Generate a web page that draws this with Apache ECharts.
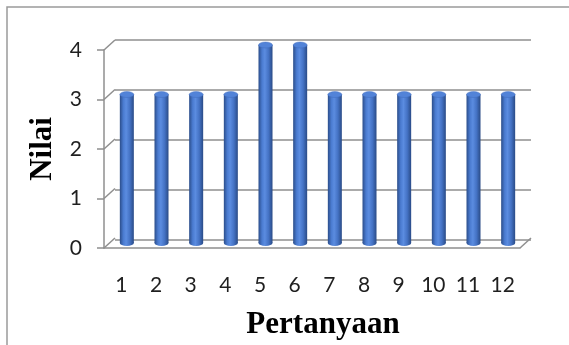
<!DOCTYPE html>
<html>
<head>
<meta charset="utf-8">
<script src="https://cdn.jsdelivr.net/npm/echarts@6/dist/echarts.min.js"></script>
<style>
  html, body { margin: 0; padding: 0; background: #ffffff; }
  #chart { width: 569px; height: 345px; }
</style>
</head>
<body>
<div id="chart"></div>
<script>
// Scores per question
const categories = ['1', '2', '3', '4', '5', '6', '7', '8', '9', '10', '11', '12'];
const values = [3, 3, 3, 3, 4, 4, 3, 3, 3, 3, 3, 3];
const yTicks = [0, 1, 2, 3, 4];
const yTitle = 'Nilai';
const xTitle = 'Pertanyaan';

// Pseudo-3D depth of the plot box (back wall sits up and to the right)
const DX = 11, DY = -10;
const FRONT = { left: 104, top: 50, width: 416, height: 200 };
const GRID_COLOR = '#8f8f8f';
const LABEL_FONT = 'Lato';
const TITLE_FONT = '"Liberation Serif", "Times New Roman", serif';

const chart = echarts.init(document.getElementById('chart'), null, { renderer: 'canvas' });

const cylinderFill = new echarts.graphic.LinearGradient(0, 0, 1, 0, [
  { offset: 0, color: '#2b4d8a' },
  { offset: 0.25, color: '#4a7bd0' },
  { offset: 0.45, color: '#5b8ce0' },
  { offset: 0.72, color: '#4472c4' },
  { offset: 1, color: '#2a4b86' }
]);

function renderCylinder(params, api) {
  const i = api.value(0);
  const v = api.value(1);
  const top = api.coord([i, v]);
  const base = api.coord([i, 0]);
  const w = 14, r = w / 2, ry = 3;
  const cx = top[0] + DX / 2;
  const yTop = top[1] + DY / 2;
  const yBot = base[1] + DY / 2;
  return {
    type: 'group',
    children: [
      { type: 'circle', x: cx, y: yBot, scaleY: ry / r, shape: { cx: 0, cy: 0, r: r },
        style: { fill: cylinderFill } },
      { type: 'rect', shape: { x: cx - r, y: yTop, width: w, height: yBot - yTop },
        style: { fill: cylinderFill } },
      { type: 'circle', x: cx, y: yTop, scaleY: ry / r, shape: { cx: 0, cy: 0, r: r },
        style: { fill: '#5283d8', stroke: '#3d68b8', lineWidth: 0.6 } }
    ]
  };
}

chart.setOption({
  animation: false,
  backgroundColor: '#ffffff',
  grid: [
    // front plane: axes, ticks and labels
    { left: FRONT.left, top: FRONT.top, width: FRONT.width, height: FRONT.height },
    // back wall: horizontal gridlines
    { left: FRONT.left + DX, top: FRONT.top + DY, width: FRONT.width, height: FRONT.height }
  ],
  xAxis: [
    {
      gridIndex: 0, type: 'category', data: categories,
      axisLine: { show: true, lineStyle: { color: GRID_COLOR, width: 1.5 } },
      axisTick: { show: false },
      axisLabel: { color: '#1f1f1f', fontFamily: LABEL_FONT, fontSize: 21, margin: 27 },
      name: xTitle, nameLocation: 'middle', nameGap: 61,
      nameTextStyle: { fontFamily: TITLE_FONT, fontWeight: 'bold', fontSize: 31, color: '#000',
                       padding: [0, 0, 0, 22] }
    },
    { gridIndex: 1, type: 'category', data: categories, show: false }
  ],
  yAxis: [
    {
      gridIndex: 0, type: 'value', min: 0, max: 4, interval: 1,
      axisLine: { show: true, lineStyle: { color: GRID_COLOR, width: 1.5 } },
      axisTick: { show: true, length: 7, lineStyle: { color: GRID_COLOR, width: 1.5 } },
      splitLine: { show: false },
      axisLabel: { color: '#1f1f1f', fontFamily: LABEL_FONT, fontSize: 21, margin: 22,
                   formatter: (val) => yTicks.includes(val) ? String(val) : '' },
      name: yTitle, nameLocation: 'middle', nameGap: 41, nameRotate: 90,
      nameTextStyle: { fontFamily: TITLE_FONT, fontWeight: 'bold', fontSize: 31, color: '#000' }
    },
    {
      gridIndex: 1, type: 'value', min: 0, max: 4, interval: 1,
      axisLine: { show: false }, axisTick: { show: false }, axisLabel: { show: false },
      splitLine: { show: true, lineStyle: { color: GRID_COLOR, width: 1.5 } }
    }
  ],
  series: [
    {
      type: 'custom',
      xAxisIndex: 0, yAxisIndex: 0,
      data: values.map((v, i) => [i, v]),
      renderItem: renderCylinder,
      z: 5
    }
  ]
});

// Depth edges joining the front axis to the back wall, plus the outer frame
const depthLines = [];
yTicks.forEach((t) => {
  const y = chart.convertToPixel({ yAxisIndex: 0 }, t);
  depthLines.push({
    type: 'line', shape: { x1: FRONT.left, y1: y, x2: FRONT.left + DX, y2: y + DY },
    style: { stroke: GRID_COLOR, lineWidth: 1.5 }, z: 1
  });
});
const yZero = chart.convertToPixel({ yAxisIndex: 0 }, 0);
const xRight = FRONT.left + FRONT.width;
depthLines.push({
  type: 'line', shape: { x1: xRight, y1: yZero, x2: xRight + DX, y2: yZero + DY },
  style: { stroke: GRID_COLOR, lineWidth: 1.5 }, z: 1
});
depthLines.push({
  type: 'rect', shape: { x: 7, y: 7, width: 700, height: 500 },
  style: { fill: 'none', stroke: '#9a9a9a', lineWidth: 1.5 }, z: 0, silent: true
});
chart.setOption({ graphic: depthLines });
</script>
</body>
</html>
